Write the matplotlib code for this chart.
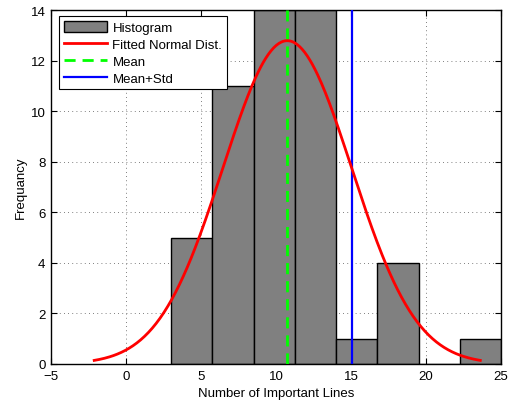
import numpy as np
import matplotlib
matplotlib.use("Agg")
import matplotlib.pyplot as plt

plt.rcParams['font.family'] = ['Liberation Sans', 'DejaVu Sans']

# Data
bin_edges = [3.0, 5.75, 8.5, 11.25, 14.0, 16.75, 19.5, 22.25, 25.0]
counts = [5, 11, 14, 14, 1, 4, 0, 1]
mean_val = 10.75
std_val = 4.29
n_samples = 50

fig = plt.figure(figsize=(5.09, 4.06), dpi=100)
ax = fig.add_axes([0.1002, 0.1010, 0.8841, 0.8719])

edges = np.array(bin_edges)
widths = np.diff(edges)
bars = ax.bar(edges[:-1], counts, width=widths, align='edge', color='#808080',
              edgecolor='black', linewidth=1.0, label='Histogram', zorder=2)

bw = widths[0]
xs = np.linspace(mean_val - 3 * std_val, mean_val + 3 * std_val, 300)
ys = n_samples * bw / (std_val * np.sqrt(2 * np.pi)) * np.exp(-0.5 * ((xs - mean_val) / std_val) ** 2)
l1, = ax.plot(xs, ys, color='red', lw=2.0, label='Fitted Normal Dist.', zorder=4)

l2 = ax.axvline(mean_val, color='#00ff00', lw=2.0, ls=(0, (4, 2.5)), label='Mean', zorder=3)
l3 = ax.axvline(mean_val + std_val, color='blue', lw=1.6, label='Mean+Std', zorder=3)

ax.set_xlim(-5, 25)
ax.set_ylim(0, 14)
ax.set_xticks([-5, 0, 5, 10, 15, 20, 25])
ax.set_xticklabels(['\u22125', '0', '5', '10', '15', '20', '25'])
ax.set_yticks(range(0, 15, 2))

ax.set_axisbelow(True)
ax.grid(True, color='#555555', lw=0.6, ls=(0, (1, 4)))
ax.tick_params(direction='in', top=True, right=True, length=4, width=0.8,
               labelsize=9.5, pad=4)
for s in ax.spines.values():
    s.set_linewidth(1.0)

ax.set_xlabel('Number of Important Lines', fontsize=9.5, labelpad=4)
ax.set_ylabel('Frequancy', fontsize=9.5, labelpad=3)

leg = ax.legend([bars, l1, l2, l3], ['Histogram', 'Fitted Normal Dist.', 'Mean', 'Mean+Std'],
                loc='upper left', bbox_to_anchor=(0.0178, 0.983), borderaxespad=0,
                fontsize=9.5, handlelength=3.3, handleheight=0.9, handletextpad=0.4,
                labelspacing=0.3, borderpad=0.35, fancybox=False, framealpha=1,
                edgecolor='black')
leg.get_frame().set_linewidth(0.8)

fig.savefig('out.png', dpi=100)
